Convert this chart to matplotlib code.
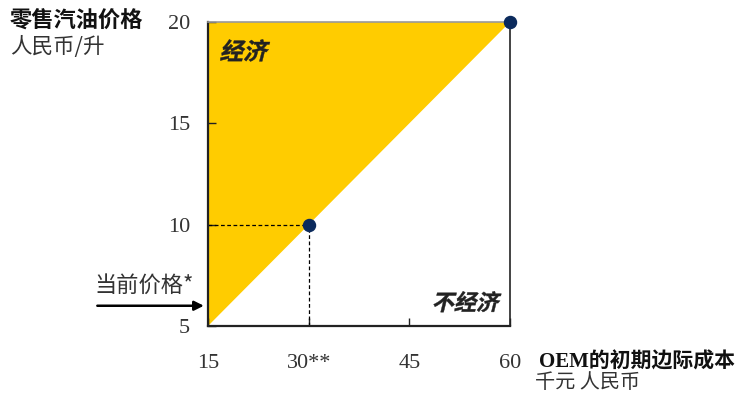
import matplotlib.pyplot as plt
from matplotlib.textpath import TextPath
from matplotlib.font_manager import FontProperties
from matplotlib.patches import PathPatch
from matplotlib.transforms import Affine2D, ScaledTranslation

plt.rcParams['font.family'] = ['Liberation Serif', 'Noto Sans CJK SC']

# economic region polygon corners (cost, price)
region_x = [15, 60, 15]
region_y = [5, 20, 20]
point_x = [30, 60]
point_y = [10, 20]
current_price = 6
xticks = [15, 30, 45, 60]
xtick_labels = ["15", "30**", "45", "60"]
yticks = [5, 10, 15, 20]

fig = plt.figure(figsize=(7.47, 3.97), dpi=100)
ax = fig.add_axes([0.2784, 0.1788, 0.4043, 0.7657])

ax.fill(region_x, region_y, color="#FFCC00", lw=0)
ax.plot([15, 30], [10, 10], ls=(0, (3, 2)), color="black", lw=0.9)
ax.plot([30, 30], [5, 10], ls=(0, (3, 2)), color="black", lw=0.9)
ax.scatter(point_x, point_y, s=75, color="#0B2A5C", zorder=5, clip_on=False)

ax.set_xlim(15, 60)
ax.set_ylim(5, 20)
ax.set_xticks(xticks)
ax.set_xticklabels(xtick_labels)
ax.set_yticks(yticks)
ax.tick_params(direction="in", length=6, width=1, colors="#222222",
               labelcolor="#333333", labelsize=16)
ax.tick_params(axis="x", pad=20)
ax.tick_params(axis="y", pad=13)

for s in ["left", "bottom"]:
    ax.spines[s].set_linewidth(1.6)
    ax.spines[s].set_color("#222222")
ax.spines["right"].set_linewidth(1.2)
ax.spines["right"].set_color("#222222")
ax.spines["top"].set_linewidth(1.2)
ax.spines["top"].set_color("#999999")


def slanted(text, x, y, size, align="left"):
    # CJK fonts have no italic, so shear the glyph outlines
    tp = TextPath((0, 0), text, prop=FontProperties(family="Noto Sans CJK SC",
                                                    weight="bold", size=size))
    ext = tp.get_extents()
    dx = -ext.x0 if align == "left" else -ext.x1
    dy = -(ext.y0 + ext.y1) / 2
    tr = (Affine2D().translate(dx, dy).skew_deg(14, 0).scale(1 / 72.0)
          + fig.dpi_scale_trans + ScaledTranslation(x, y, ax.transData))
    ax.add_patch(PathPatch(tp, transform=tr, color="#222222", lw=0.3,
                           clip_on=False))


slanted("经济", 17.1, 18.6, 17)
slanted("不经济", 58.5, 6.2, 16, align="right")

ax.annotate("", xy=(14.8, current_price), xytext=(-1.9, current_price),
            xycoords="data", annotation_clip=False,
            arrowprops=dict(arrowstyle="-|>", color="black", lw=1.8,
                            mutation_scale=14))
fig.text(0.127, 0.282, "当前价格*", fontsize=16, color="#333333",
         family=["Noto Sans CJK SC", "Liberation Serif"], va="center")

fig.text(0.013, 0.948, "零售汽油价格", fontsize=16, fontweight="bold",
         color="#111111", family="Noto Sans CJK SC", va="center")
fig.text(0.013, 0.882, "人民币/升", fontsize=15.5, color="#333333",
         family="Noto Sans CJK SC", va="center")
fig.text(0.722, 0.088, "OEM的初期边际成本", fontsize=15, fontweight="bold",
         color="#111111", va="center")
fig.text(0.716, 0.037, "千元 人民币", fontsize=14.5, color="#333333",
         family="Noto Sans CJK SC", va="center")

fig.savefig("out.png", dpi=100)
